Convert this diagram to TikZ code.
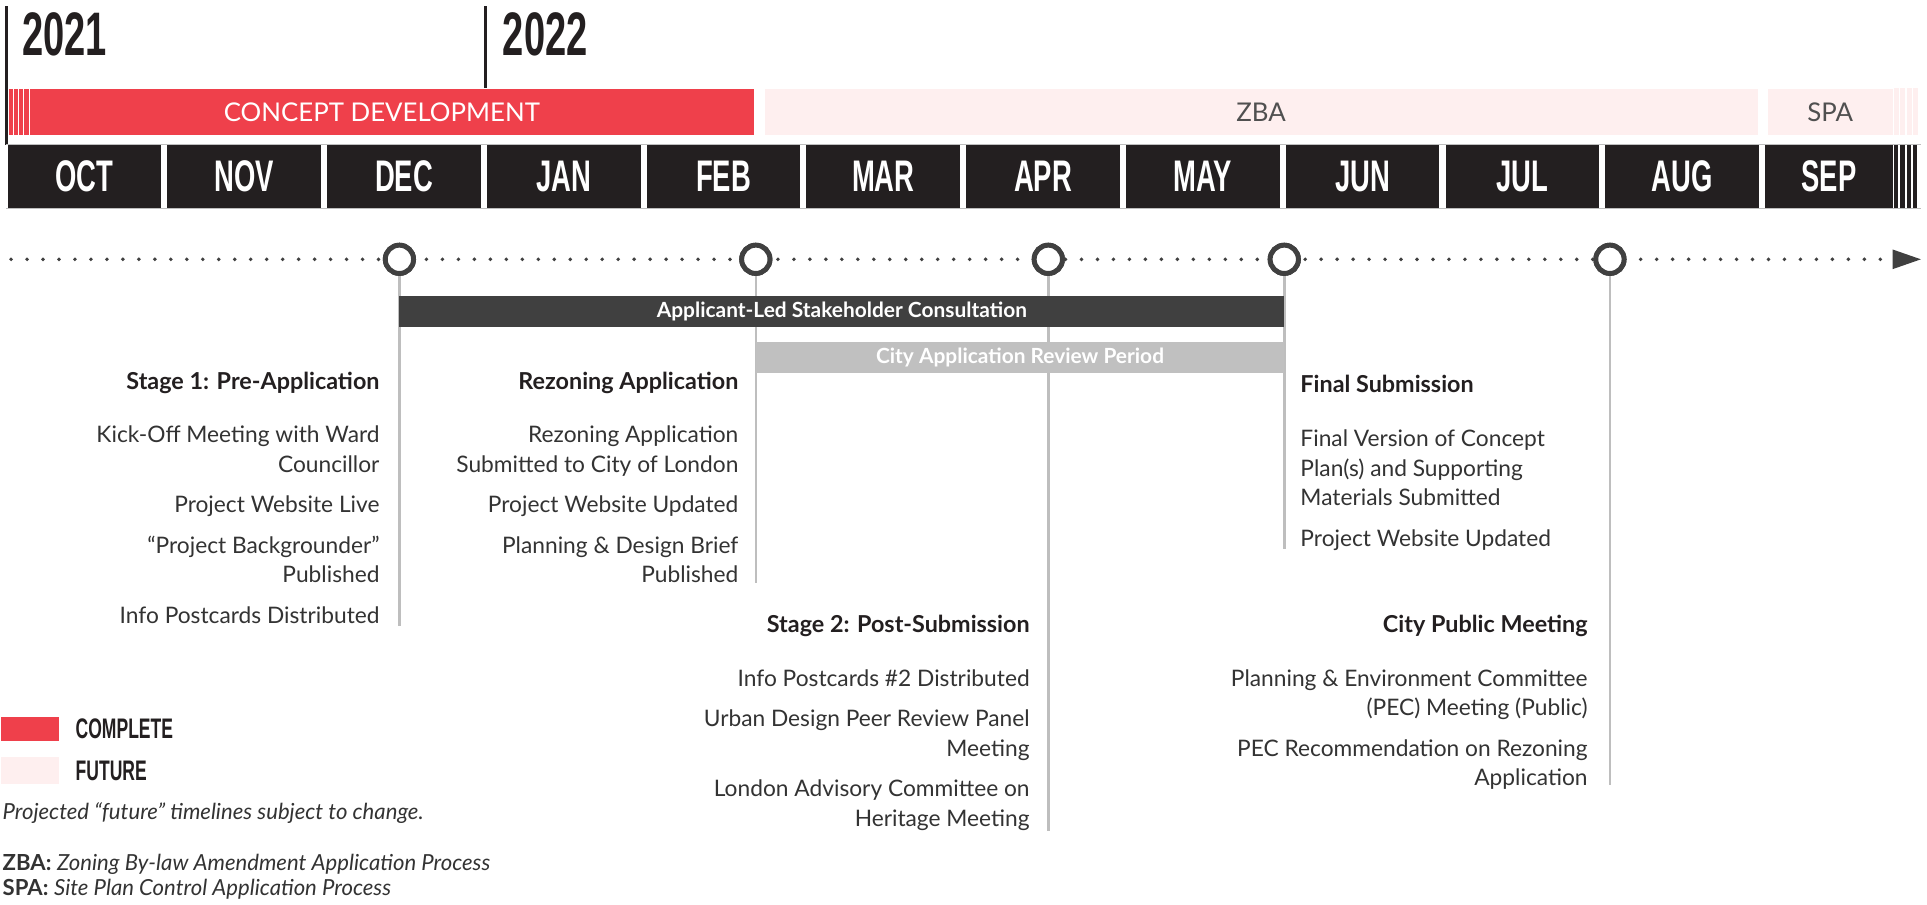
\documentclass[tikz,border=0pt]{standalone}
\usepackage{fontspec}
\setmainfont{Lato}
\newfontfamily\condfont{Liberation Sans}[FakeStretch=0.62]
\usetikzlibrary{arrows.meta, positioning}
\definecolor{tlred}{RGB}{239,64,75}
\definecolor{tlpale}{RGB}{254,239,239}
\definecolor{tlblack}{RGB}{35,31,32}
\definecolor{tldark}{RGB}{64,64,64}
\definecolor{tlgray}{RGB}{192,192,192}
\definecolor{tlstem}{RGB}{190,190,190}
\definecolor{tltext}{RGB}{51,51,51}
\definecolor{tlzba}{RGB}{80,80,80}
\tikzset{
  monthbox/.style={rectangle, fill=tlblack, text=white, anchor=north west,
    minimum width=125pt, minimum height=51pt, inner sep=0pt,
    font=\condfont\bfseries\fontsize{36}{36}\selectfont},
  year/.style={anchor=base west, inner sep=0pt, text=tlblack,
    font=\condfont\bfseries\fontsize{50}{50}\selectfont},
  phase/.style={rectangle, anchor=north west, minimum height=38pt,
    inner sep=0pt, font=\fontsize{21}{21}\selectfont},
  period/.style={rectangle, minimum height=25pt, inner sep=0pt, text=white,
    font=\bfseries\fontsize{17}{17}\selectfont},
  milestone/.style={circle, draw=tldark, fill=white, line width=4pt,
    minimum size=23pt, inner sep=0pt},
  stem/.style={draw=tlstem, line width=2pt},
  head/.style={inner sep=0pt, text=tlblack, font=\bfseries\fontsize{19}{24}\selectfont},
  items/.style={inner sep=0pt, text=tltext, font=\fontsize{18.5}{24}\selectfont},
  legendbox/.style={rectangle, anchor=north west, minimum width=47pt, inner sep=0pt},
  legendtxt/.style={anchor=west, inner sep=0pt, text=tlblack,
    font=\condfont\bfseries\fontsize{23}{23}\selectfont},
  note/.style={anchor=base west, inner sep=0pt, text=tltext, font=\fontsize{18}{20}\selectfont},
  dotline/.style={draw=tldark, line width=3.2pt, line cap=round, dash pattern=on 0pt off 13pt}
}

\begin{document}
\begin{tikzpicture}[x=1pt, y=-1pt]
  \useasboundingbox[fill=white] (0,0) rectangle (1568,736);

  % years
  \draw[tlblack, line width=2.5pt] (5,5) -- (5,118);
  \draw[tlblack, line width=2.5pt] (395,5) -- (395,72);
  \node[year] (y2021) at (18,45) {2021};
  \node[year] (y2022) at (409,45) {2022};

  % phases
  \node[phase, fill=tlred, text=white, minimum width=606pt] (concept) at (7.5,72) {CONCEPT DEVELOPMENT};
  \foreach \s in {11,15,19,24}
    \draw[white, line width=0.9pt] (\s,72) -- (\s,110);
  \node[phase, fill=tlpale, text=tlzba, minimum width=808pt] (zba) at (622,72) {ZBA};
  \node[phase, fill=tlpale, text=tlzba, minimum width=102pt] (spa) at (1438,72) {SPA};
  \foreach \s in {1541,1546.2,1551.4,1556.6}
    \fill[tlpale] (\s,72) rectangle ++(4.2,38);

  % months
  \draw[tlstem, line width=0.6pt] (5,117.5) -- (1563,117.5);
  \draw[tlstem, line width=0.6pt] (5,169.5) -- (1563,169.5);
  \foreach \m [count=\i from 0] in {OCT,NOV,DEC,JAN,FEB,MAR,APR,MAY,JUN,JUL,AUG}
    \node[monthbox] (\m) at ({6+130*\i},118) {\m};
  \node[monthbox, minimum width=104pt] (SEP) at (1436,118) {SEP};
  \foreach \s in {1541,1546.2,1551.4,1556.6}
    \fill[tlblack] (\s,118) rectangle ++(3.6,51);

  % milestones and their stems
  \coordinate (tlstart) at (9,211);
  \coordinate (tlend) at (1563,211);
  \node[milestone] (preapp) at (325,211) {};
  \node[milestone] (rezone) at (615,211) {};
  \node[milestone] (stage2) at (853,211) {};
  \node[milestone] (final) at (1045,211) {};
  \node[milestone] (pec) at (1310,211) {};
  \draw[stem] (preapp.south) -- ++(0,285);
  \draw[stem] (rezone.south) -- ++(0,250);
  \draw[stem] (stage2.south) -- ++(0,452);
  \draw[stem] (final.south) -- ++(0,222);
  \draw[stem] (pec.south) -- ++(0,414);

  \node[period, fill=tldark, minimum width=720pt] (consult) at (685,253.5) {Applicant-Led Stakeholder Consultation};
  \node[period, fill=tlgray, minimum width=430pt] (review) at (830,291) {City Application Review Period};

  \draw[dotline] (tlstart) -- (tlend);
  \fill[tldark] (1540,203) -- (1563,211) -- (1540,219) -- cycle;
  \foreach \p in {preapp,rezone,stage2,final,pec}
    \node[milestone] at (\p) {};

  % stage texts
  \node[head, anchor=base east] (s1head) at (309,317) {Stage 1: Pre-Application};
  \node[items, anchor=north east, align=right] (s1items) at (309,346.5)
    {Kick-Off Meeting with Ward\\Councillor\\[9pt]Project Website Live\\[9pt]“Project Backgrounder”\\Published\\[9pt]Info Postcards Distributed};

  \node[head, anchor=base east] (rzhead) at (601,317) {Rezoning Application};
  \node[items, anchor=north east, align=right] (rzitems) at (601,346.5)
    {Rezoning Application\\Submitted to City of London\\[9pt]Project Website Updated\\[9pt]Planning \& Design Brief\\Published};

  \node[head, anchor=base west] (fshead) at (1058,319) {Final Submission};
  \node[items, anchor=north west, align=left] (fsitems) at (1058,349.5)
    {Final Version of Concept\\Plan(s) and Supporting\\Materials Submitted\\[9pt]Project Website Updated};

  \node[head, anchor=base east] (s2head) at (838,515) {Stage 2: Post-Submission};
  \node[items, anchor=north east, align=right] (s2items) at (838,544.5)
    {Info Postcards \#2 Distributed\\[9pt]Urban Design Peer Review Panel\\Meeting\\[9pt]London Advisory Committee on\\Heritage Meeting};

  \node[head, anchor=base east] (cphead) at (1292,515) {City Public Meeting};
  \node[items, anchor=north east, align=right] (cpitems) at (1292,544.5)
    {Planning \& Environment Committee\\(PEC) Meeting (Public)\\[9pt]PEC Recommendation on Rezoning\\Application};

  % legend
  \node[legendbox, fill=tlred, minimum height=20pt] (keydone) at (1,583) {};
  \node[legendtxt, right=13pt of keydone] (keydonetxt) {COMPLETE};
  \node[legendbox, fill=tlpale, minimum height=22pt] (keyfuture) at (1,616) {};
  \node[legendtxt, right=13pt of keyfuture] (keyfuturetxt) {FUTURE};
  \node[note] (caveat) at (2,667) {\itshape Projected “future” timelines subject to change.};
  \node[note] (zbanote) at (2,708) {\textbf{ZBA:} \textit{Zoning By-law Amendment Application Process}};
  \node[note] (spanote) at (2,729) {\textbf{SPA:} \textit{Site Plan Control Application Process}};
\end{tikzpicture}
\end{document}
